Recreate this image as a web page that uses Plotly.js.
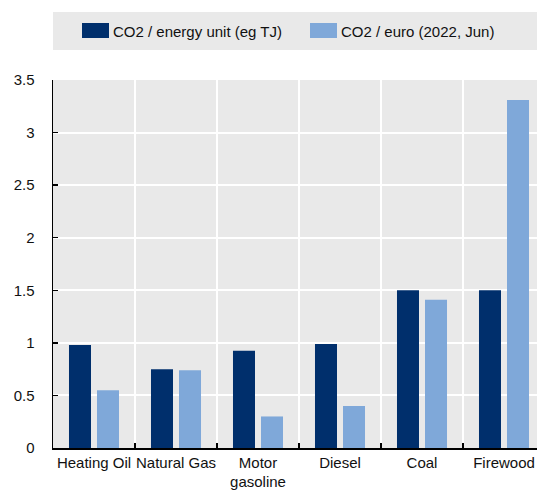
<!DOCTYPE html>
<html>
<head>
<meta charset="utf-8">
<script src="https://cdn.plot.ly/plotly-3.0.1.min.js"></script>
<style>html,body{margin:0;padding:0;background:#fff;}#chart{width:537px;height:495px;}</style>
</head>
<body>
<div id="chart"></div>
<script>
const categories = ["Heating Oil", "Natural Gas", "Motor<br>gasoline", "Diesel", "Coal", "Firewood"];
const seriesNames = ["CO2 / energy unit (eg TJ)", "CO2 / euro (2022, Jun)"];
const co2PerEnergy = [0.98, 0.75, 0.925, 0.99, 1.50, 1.50];
const co2PerEuro = [0.55, 0.74, 0.30, 0.40, 1.41, 3.31];
const yTicks = [0, 0.5, 1, 1.5, 2, 2.5, 3, 3.5];
const colors = ["#002F6C", "#7FA8D9"];

const FONT = "Liberation Sans, Arial, sans-serif";
const FS = 15;
const W = 537, H = 495;
const margin = {l: 53, r: 0, t: 80, b: 47};
const plotH = H - margin.t - margin.b;
const plotW = W - margin.l - margin.r;
const py = y => (H - margin.b - y) / plotH;   // pixel y -> paper
const px = x => (x - margin.l) / plotW;       // pixel x -> paper

const traces = [
  {type: "bar", x: categories, y: co2PerEnergy, name: seriesNames[0], marker: {color: colors[0]}},
  {type: "bar", x: categories, y: co2PerEuro, name: seriesNames[1], marker: {color: colors[1]}}
];

const layout = {
  width: W, height: H,
  margin: margin,
  paper_bgcolor: "#ffffff",
  plot_bgcolor: "#E9E9E9",
  font: {family: FONT, size: FS, color: "#111"},
  showlegend: false,
  barmode: "group",
  bargap: 0.317,
  bargroupgap: 0.214,
  xaxis: {
    type: "category",
    range: [-0.5, 5.5 - 8/82],
    tickson: "boundaries",
    tickangle: 0,
    ticks: "inside", ticklen: 5, tickwidth: 1.5, tickcolor: "#000",
    showline: true, linecolor: "#000", linewidth: 1.5,
    showgrid: true, gridcolor: "#ffffff", gridwidth: 2,
    tickfont: {family: FONT, size: FS, color: "#111"},
    fixedrange: true
  },
  yaxis: {
    range: [0, 3.5],
    tickvals: yTicks,
    ticktext: yTicks.map(v => String(v)),
    ticks: "inside", ticklen: 5, tickwidth: 1.5, tickcolor: "#000",
    showline: true, linecolor: "#000", linewidth: 1.5,
    showgrid: true, gridcolor: "#ffffff", gridwidth: 2,
    zeroline: false,
    ticklabelstandoff: 14,
    tickfont: {family: FONT, size: FS, color: "#111"},
    fixedrange: true
  },
  shapes: [
    {type: "rect", xref: "paper", yref: "paper", x0: 0, x1: 1.02, y0: py(50), y1: py(12),
     fillcolor: "#E9E9E9", line: {width: 0}, layer: "below"},
    {type: "rect", xref: "paper", yref: "paper", x0: px(82), x1: px(109), y0: py(38), y1: py(23),
     fillcolor: colors[0], line: {width: 0}},
    {type: "rect", xref: "paper", yref: "paper", x0: px(310), x1: px(337), y0: py(38), y1: py(23),
     fillcolor: colors[1], line: {width: 0}}
  ],
  annotations: [
    {xref: "paper", yref: "paper", x: px(111), y: py(31), xanchor: "left", yanchor: "middle",
     text: seriesNames[0], showarrow: false, font: {family: FONT, size: FS, color: "#111"}},
    {xref: "paper", yref: "paper", x: px(339), y: py(31), xanchor: "left", yanchor: "middle",
     text: seriesNames[1], showarrow: false, font: {family: FONT, size: FS, color: "#111"}}
  ]
};

Plotly.newPlot("chart", traces, layout, {displayModeBar: false, staticPlot: true});
</script>
</body>
</html>
